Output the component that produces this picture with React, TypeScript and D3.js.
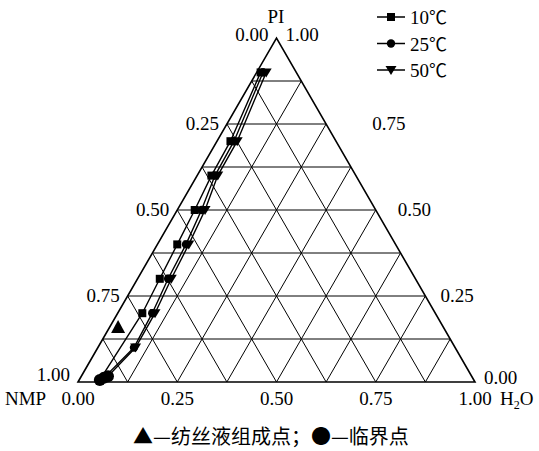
import React from "react";
import * as d3 from "d3";

// ternary data: PI fraction and H2O fraction (NMP = 1 - PI - H2O)
const series = ["10", "25", "50"];
const pi10 = [0.9, 0.7, 0.6, 0.5, 0.4, 0.3, 0.2, 0.006];
const h2o10 = [0.01, 0.034, 0.036, 0.044, 0.05, 0.056, 0.062, 0.052];
const pi25 = [0.9, 0.7, 0.6, 0.5, 0.4, 0.3, 0.2, 0.1, 0.012];
const h2o25 = [0.016, 0.043, 0.045, 0.061, 0.072, 0.077, 0.087, 0.091, 0.059];
const pi50 = [0.9, 0.7, 0.6, 0.5, 0.4, 0.3, 0.2, 0.1, 0.017];
const h2o50 = [0.024, 0.051, 0.052, 0.07, 0.079, 0.085, 0.094, 0.095, 0.067];
// critical points (last point of each curve)
const criticalPi = [0.006, 0.012, 0.017];
const criticalH2o = [0.052, 0.059, 0.067];
// spinning solution composition
const dopePi = [0.16];
const dopeH2o = [0.021];
const tickLabels = ["0.00", "0.25", "0.50", "0.75", "1.00"];
const tickValues = [0, 0.25, 0.5, 0.75, 1];
const gridSteps = d3.range(1, 8).map(k => k / 8);

const W = 539;
const H = 451;
const serif = "'Liberation Serif', 'Times New Roman', serif";
const cjk = "'Noto Sans CJK SC', sans-serif";

const xS = d3.scaleLinear().domain([0, 1]).range([78, 475]);
const yS = d3.scaleLinear().domain([0, 1]).range([382, 38]);
const px = (p: number, w: number) => xS(w + p / 2);
const py = (p: number) => yS(p);

const line = d3.line<[number, number]>().x(d => px(d[0], d[1])).y(d => py(d[0]));

// right-hand labels sit a bit further out near the top, as in the source figure
const rightGap = [9, 15, 22, 46, 9];

const Marker = ({ type, x, y }: { type: number; x: number; y: number }) => {
    if (type === 0) return <rect x={x - 4} y={y - 4} width={8} height={8} fill="#000" />;
    if (type === 1) return <circle cx={x} cy={y} r={4.2} fill="#000" />;
    return <path d={`M${x - 5.5},${y - 4}L${x + 5.5},${y - 4}L${x},${y + 5}Z`} fill="#000" />;
};

export default function App() {
    const pis = [pi10, pi25, pi50];
    const h2os = [h2o10, h2o25, h2o50];

    const gridLines: string[] = [];
    gridSteps.forEach(t => {
        gridLines.push(line([[t, 0], [t, 1 - t]]) as string);
        gridLines.push(line([[0, t], [1 - t, t]]) as string);
        gridLines.push(line([[0, 1 - t], [1 - t, 0]]) as string);
    });

    const border = line([[0, 0], [1, 0], [0, 1], [0, 0]]) as string;

    return (
        <svg width={W} height={H} style={{ position: "absolute", left: 0, top: 0, background: "#fff" }}
            fontFamily={serif} fontSize={19}>
            {gridLines.map((d, i) => <path key={i} d={d} stroke="#000" strokeWidth={1} fill="none" />)}
            <path d={border + "Z"} stroke="#000" strokeWidth={1.6} fill="none" strokeLinejoin="miter" />

            {/* left edge: NMP fraction */}
            {tickValues.map((v, i) => (
                <text key={"l" + i} x={px(1 - v, 0) - 8} y={i === 0 ? 41 : i === 4 ? 381 : py(1 - v) + 6}
                    textAnchor="end">{tickLabels[i]}</text>
            ))}
            {/* right edge: PI fraction */}
            {tickValues.map((v, i) => (
                <text key={"r" + i} x={px(v, 1 - v) + rightGap[i]} y={i === 4 ? 41 : py(v) + (i === 0 ? 2 : 6)}
                    textAnchor="start">{tickLabels[i]}</text>
            ))}
            {/* bottom edge: H2O fraction */}
            {tickValues.map((v, i) => (
                <text key={"b" + i} x={px(0, v)} y={405} textAnchor="middle">{tickLabels[i]}</text>
            ))}
            <text x={5} y={405}>NMP</text>
            <text x={500} y={405}>H<tspan fontSize={12} dy={4}>2</tspan><tspan dy={-4}>O</tspan></text>
            <text x={276} y={23} textAnchor="middle">PI</text>

            {/* binodal curves */}
            {pis.map((pArr, s) => {
                const pts = pArr.map((p, i) => [p, h2os[s][i]] as [number, number]);
                return (
                    <g key={"s" + s}>
                        <path d={line(pts) as string} stroke="#000" strokeWidth={1.4} fill="none" />
                        {pts.slice(0, -1).map((d, i) => (
                            <Marker key={i} type={s} x={px(d[0], d[1])} y={py(d[0])} />
                        ))}
                    </g>
                );
            })}
            {criticalPi.map((p, i) => (
                <circle key={"c" + i} cx={px(p, criticalH2o[i])} cy={py(p)} r={6} fill="#000" />
            ))}
            {dopePi.map((p, i) => {
                const x = px(p, dopeH2o[i]);
                const y = py(p);
                return <path key={"d" + i} d={`M${x - 7},${y + 6}L${x + 7},${y + 6}L${x},${y - 7}Z`} fill="#000" />;
            })}

            {/* legend */}
            {series.map((name, i) => {
                const y = 17 + i * 26.5;
                return (
                    <g key={"lg" + i}>
                        <line x1={377} x2={405} y1={y} y2={y} stroke="#000" strokeWidth={1.5} />
                        <Marker type={i} x={391} y={y} />
                        <text x={410} y={y + 7}>{name}<tspan fontFamily={cjk} fontSize={18}>℃</tspan></text>
                    </g>
                );
            })}

            <text x={271} y={444} textAnchor="middle" fontFamily={cjk} fontSize={20}>
                ▲—纺丝液组成点；●—临界点
            </text>
        </svg>
    );
}
